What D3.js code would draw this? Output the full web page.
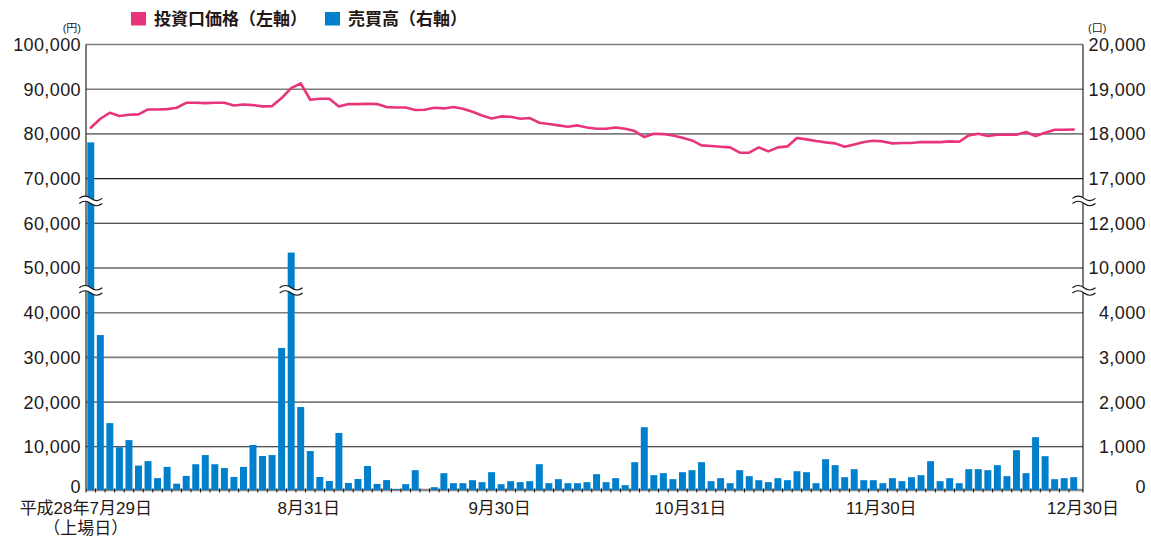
<!DOCTYPE html>
<html lang="ja">
<head>
<meta charset="utf-8">
<script src="https://cdn.jsdelivr.net/npm/d3@7"></script>
<style>
  body { margin: 0; background: #fff; }
  svg { display: block; }
  text { fill: #231815; }
</style>
</head>
<body>
<div id="chart"></div>
<script>
// trading days, 2016-07-29 .. 2016-12-30
const dates = [
  '7/29',
  '8/1', '8/2', '8/3', '8/4', '8/5', '8/8', '8/9', '8/10', '8/12', '8/15', '8/16',
  '8/17', '8/18', '8/19', '8/22', '8/23', '8/24', '8/25', '8/26', '8/29', '8/30', '8/31',
  '9/1', '9/2', '9/5', '9/6', '9/7', '9/8', '9/9', '9/12', '9/13', '9/14', '9/15',
  '9/16', '9/20', '9/21', '9/23', '9/26', '9/27', '9/28', '9/29', '9/30',
  '10/3', '10/4', '10/5', '10/6', '10/7', '10/11', '10/12', '10/13', '10/14', '10/17',
  '10/18', '10/19', '10/20', '10/21', '10/24', '10/25', '10/26', '10/27', '10/28', '10/31',
  '11/1', '11/2', '11/4', '11/7', '11/8', '11/9', '11/10', '11/11', '11/14', '11/15',
  '11/16', '11/17', '11/18', '11/21', '11/22', '11/24', '11/25', '11/28', '11/29', '11/30',
  '12/1', '12/2', '12/5', '12/6', '12/7', '12/8', '12/9', '12/12', '12/13', '12/14',
  '12/15', '12/16', '12/19', '12/20', '12/21', '12/22', '12/26', '12/27', '12/28', '12/29', '12/30'
];

// 投資口価格 (円)
const prices = [
  81380, 83390, 84730, 83990, 84280, 84360, 85470, 85470, 85550, 85850,
  86960, 86960, 86890, 86960, 86960, 86370, 86590, 86440, 86150, 86220,
  88010, 90250, 91300, 87640, 87860, 87860, 86150, 86670, 86670, 86740,
  86670, 86000, 85920, 85920, 85330, 85400, 85850, 85700, 86000, 85620,
  84950, 84130, 83460, 83910, 83840, 83390, 83540, 82500, 82200, 81900,
  81600, 81900, 81450, 81150, 81150, 81450, 81150, 80630, 79290, 80040,
  79960, 79660, 79140, 78550, 77430, 77280, 77130, 76980, 75790, 75790,
  76980, 76090, 76980, 77200, 79070, 78770, 78400, 78100, 77880, 77130,
  77650, 78170, 78470, 78320, 77880, 77950, 77950, 78170, 78170, 78170,
  78320, 78250, 79660, 80040, 79520, 79810, 79810, 79810, 80410, 79520,
  80260, 80930, 80930, 81000
];

// 売買高 (口)
const volumes = [
  17810, 3500, 1530, 990, 1150, 580, 680, 300, 550, 175,
  350, 610, 815, 610, 525, 325, 550, 1040, 795, 815,
  3210, 10690, 1890, 905, 325, 235, 1310, 190, 280, 570,
  170, 255, 55, 164, 477, 30, 97, 410, 186, 186,
  253, 209, 432, 164, 231, 209, 231, 611, 186, 276,
  186, 186, 209, 387, 209, 298, 142, 656, 1438, 365,
  410, 276, 432, 477, 656, 231, 298, 186, 477, 343,
  253, 209, 298, 253, 454, 432, 186, 723, 589, 320,
  499, 253, 253, 186, 298, 231, 320, 365, 678, 231,
  298, 186, 499, 499, 477, 589, 343, 924, 410, 1214,
  790, 276, 298, 320
];

const leftTicks = [0, 10000, 20000, 30000, 40000, 50000, 60000, 70000, 80000, 90000, 100000];
const rightTicks = [0, 1000, 2000, 3000, 4000, 10000, 12000, 17000, 18000, 19000, 20000];
// axis breaks on the volume axis: [below, above]
const volumeBreaks = [[4000, 10000], [12000, 17000]];
const darkGridValues = [1000, 10000, 12000, 17000];

const xLabelDates = ['7/29', '8/31', '9/30', '10/31', '11/30', '12/30'];
const xLabelTexts = [['平成28年7月29日', '（上場日）'], ['8月31日'], ['9月30日'], ['10月31日'], ['11月30日'], ['12月30日']];

const legendItems = [
  { name: '投資口価格（左軸）', color: '#e8347b' },
  { name: '売買高（右軸）', color: '#0080cc' }
];

const width = 1151;
const height = 540;
const plot = { left: 86, right: 1083, top: 44.5, bottom: 491.5 };

const svg = d3.select('#chart')
  .append('svg')
  .attr('width', width)
  .attr('height', height);

const x = d3.scaleBand()
  .domain(dates)
  .range([plot.left, 1078.5])
  .paddingInner(0.27)
  .paddingOuter(0.135);

const yPrice = d3.scaleLinear().domain([0, 100000]).range([plot.bottom, plot.top]);
// volume axis is piecewise: each right tick sits on the matching left gridline
const yVol = d3.scaleLinear().domain(rightTicks).range(leftTicks.map(yPrice));

const cx = d => x(d) + x.bandwidth() / 2;
// the zero labels sit a little above the baseline
const labelY = y => (y >= plot.bottom ? y - 5 : y);

const tickFont = '"Liberation Sans", Arial, sans-serif';
const jpFont = '"Liberation Sans", "Noto Sans CJK JP", sans-serif';

// gridlines
svg.append('g')
  .selectAll('line')
  .data(rightTicks.slice(1))
  .join('line')
  .attr('x1', plot.left)
  .attr('x2', plot.right)
  .attr('y1', d => yVol(d))
  .attr('y2', d => yVol(d))
  .attr('stroke', d => darkGridValues.includes(d) ? '#1a1a1a' : '#7d7d7d')
  .attr('stroke-width', d => darkGridValues.includes(d) ? 1.1 : 1.6);

// baseline
svg.append('line')
  .attr('x1', plot.left)
  .attr('x2', plot.right)
  .attr('y1', plot.bottom - 1.5)
  .attr('y2', plot.bottom - 1.5)
  .attr('stroke', '#8a8a8a')
  .attr('stroke-width', 2.6);

// bars
svg.append('g')
  .selectAll('rect')
  .data(dates)
  .join('rect')
  .attr('x', d => x(d))
  .attr('width', x.bandwidth())
  .attr('y', (d, i) => yVol(volumes[i]))
  .attr('height', (d, i) => plot.bottom - 1.5 - yVol(volumes[i]))
  .attr('fill', '#0080cc');

// small ticks between bars
const gap = x.step() - x.bandwidth();
svg.append('g')
  .selectAll('line')
  .data(dates.slice(1))
  .join('line')
  .attr('x1', d => x(d) - gap / 2)
  .attr('x2', d => x(d) - gap / 2)
  .attr('y1', plot.bottom - 3)
  .attr('y2', plot.bottom + 1)
  .attr('stroke', '#111')
  .attr('stroke-width', 1);

// axis lines
svg.append('g')
  .selectAll('line')
  .data([plot.left, plot.right])
  .join('line')
  .attr('x1', d => d)
  .attr('x2', d => d)
  .attr('y1', plot.top)
  .attr('y2', plot.bottom + 1)
  .attr('stroke', '#111')
  .attr('stroke-width', 1.1);

// price line
const priceLine = d3.line()
  .x((d, i) => cx(dates[i]))
  .y(d => yPrice(d));

svg.append('path')
  .datum(prices)
  .attr('d', priceLine)
  .attr('fill', 'none')
  .attr('stroke', '#e8347b')
  .attr('stroke-width', 2.6)
  .attr('stroke-linejoin', 'round')
  .attr('stroke-linecap', 'round');

// break marks (≈)
const breakY = b => (yVol(b[0]) + yVol(b[1])) / 2;
const wave = (w, dy) => `M${-w},${dy} Q${-w / 2},${dy - 4.5} 0,${dy} T${w},${dy}`;
function drawBreak(px, py) {
  const g = svg.append('g').attr('transform', `translate(${px},${py})`);
  g.append('path')
    .attr('d', `${wave(11.5, -2.6)} L11.5,2.6 Q5.75,7.1 0,2.6 T-11.5,2.6 Z`)
    .attr('fill', '#fff');
  g.append('path')
    .attr('d', wave(11.5, -2.6) + ' ' + wave(11.5, 2.6))
    .attr('fill', 'none')
    .attr('stroke', '#111')
    .attr('stroke-width', 1.1);
}

volumeBreaks.forEach(b => {
  dates.forEach((d, i) => {
    if (volumes[i] > b[1]) drawBreak(cx(d), breakY(b));
  });
  drawBreak(plot.right + 1, breakY(b));
});

// left axis labels
const fmt = d3.format(',');
svg.append('g')
  .selectAll('text')
  .data(leftTicks)
  .join('text')
  .attr('x', 81)
  .attr('y', d => labelY(yPrice(d)))
  .attr('dy', '0.36em')
  .attr('text-anchor', 'end')
  .style('font-family', tickFont)
  .style('font-size', '18px')
  .style('letter-spacing', '0.4px')
  .text(d => fmt(d));

// right axis labels
svg.append('g')
  .selectAll('text')
  .data(rightTicks)
  .join('text')
  .attr('x', 1146)
  .attr('y', d => labelY(yVol(d)))
  .attr('dy', '0.36em')
  .attr('text-anchor', 'end')
  .style('font-family', tickFont)
  .style('font-size', '18px')
  .style('letter-spacing', '0.4px')
  .text(d => fmt(d));

// units
svg.append('text')
  .attr('x', 81).attr('y', 32)
  .attr('text-anchor', 'end')
  .style('font-family', jpFont)
  .style('font-size', '11px')
  .text('(円)');
svg.append('text')
  .attr('x', 1088).attr('y', 32)
  .style('font-family', jpFont)
  .style('font-size', '11px')
  .text('(口)');

// x labels
xLabelDates.forEach((d, i) => {
  let lx = cx(d) + 8;
  if (i === 0) lx = cx(d) - 5;
  if (i === xLabelDates.length - 1) lx = plot.right;
  const t = svg.append('text')
    .attr('text-anchor', 'middle')
    .style('font-family', jpFont)
    .style('font-size', '17px');
  xLabelTexts[i].forEach((line, j) => {
    t.append('tspan')
      .attr('x', lx)
      .attr('y', 514 + j * 20)
      .text(line);
  });
});

// legend
const legendX = [131, 325];
const legend = svg.append('g')
  .selectAll('g')
  .data(legendItems)
  .join('g')
  .attr('transform', (d, i) => `translate(${legendX[i]},12)`);

legend.append('rect')
  .attr('width', 15)
  .attr('height', 13.5)
  .attr('fill', d => d.color);

legend.append('text')
  .attr('x', 23)
  .attr('y', 7)
  .attr('dy', '0.36em')
  .style('font-family', '"Noto Sans CJK JP", sans-serif')
  .style('font-weight', 'bold')
  .style('font-size', '17px')
  .text(d => d.name);
</script>
</body>
</html>
